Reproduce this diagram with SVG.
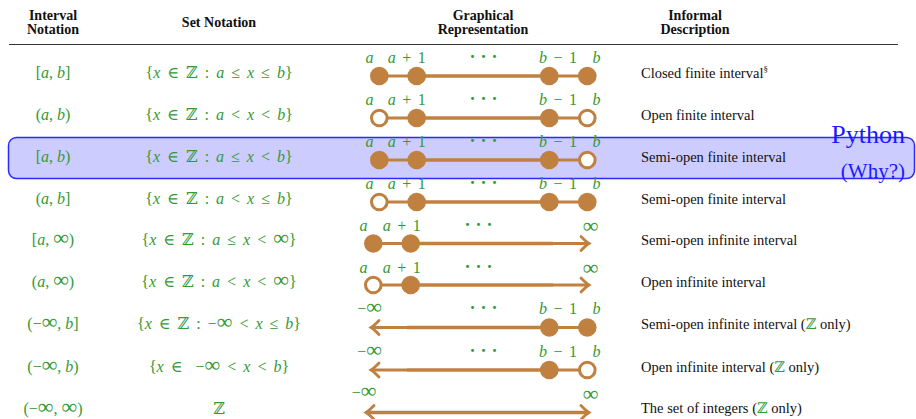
<svg xmlns="http://www.w3.org/2000/svg" width="916" height="419" viewBox="0 0 916 419">
  <style>
    text { font-family: "Liberation Serif", "DejaVu Serif", serif; }
    .hd { font-size: 14px; font-weight: bold; fill: #111; text-anchor: middle; }
    .m { font-size: 16px; fill: #339933; text-anchor: middle; }
    .set { font-size: 16px; fill: #339933; text-anchor: middle; word-spacing: 3px; }
    .lbl { font-size: 16px; fill: #339933; text-anchor: middle; word-spacing: 2.5px; }
    .v { font-style: italic; }
    .inf { font-family: "Liberation Serif", serif; font-size: 22px; }
    .dd { font-size: 18px; font-weight: bold; fill: #339933; text-anchor: middle; letter-spacing: 5px; }
    .desc { font-size: 14.5px; fill: #111; }
    .z { fill: #339933; }
    .ln { stroke: #c08040; stroke-width: 2.8; fill: none; }
    .ln2 { stroke: #c08040; stroke-width: 3.6; fill: none; }
    .dot { fill: #c08040; }
    .open { fill: #fff; stroke: #c08040; stroke-width: 3; }
    .py { fill: #1a1aff; text-anchor: end; }
  </style>
  <defs>
    <marker id="arr" markerUnits="userSpaceOnUse" viewBox="-10 -10 12 20" markerWidth="12" markerHeight="20" refX="0" refY="0" orient="auto-start-reverse" overflow="visible">
      <path d="M-8,-7 Q-3,-1.8 0,0 Q-3,1.8 -8,7" fill="none" stroke="#c08040" stroke-width="2.8" stroke-linecap="round"/>
    </marker>
  </defs>

  <rect width="916" height="419" fill="#fff"/>

  <!-- column headings -->
  <g id="header">
    <text class="hd" x="53" y="19.5">Interval</text>
    <text class="hd" x="53" y="33.5">Notation</text>
    <text class="hd" x="219" y="27">Set Notation</text>
    <text class="hd" x="483" y="19.5">Graphical</text>
    <text class="hd" x="483" y="33.5">Representation</text>
    <text class="hd" x="695" y="19.5">Informal</text>
    <text class="hd" x="695" y="33.5">Description</text>
    <line x1="9" y1="44.5" x2="898" y2="44.5" stroke="#333" stroke-width="1.2"/>
  </g>

  <!-- highlighted row background -->
  <rect id="highlight" x="8.5" y="137.5" width="906" height="41" rx="8" fill="#ccccff" stroke="#2a2aff" stroke-width="1.5"/>

  <!-- row 1: closed finite -->
  <g id="row1">
    <text class="m" x="53" y="77.5">[<tspan class="v">a</tspan>, <tspan class="v">b</tspan>]</text>
    <text class="set" x="219" y="77.5">{<tspan class="v">x</tspan> ∈ ℤ : <tspan class="v">a</tspan> ≤ <tspan class="v">x</tspan> ≤ <tspan class="v">b</tspan>}</text>
    <text class="lbl v" x="369.5" y="63">a</text>
    <text class="lbl" x="406.7" y="63"><tspan class="v">a</tspan> + 1</text>
    <text class="dd" x="486" y="63">···</text>
    <text class="lbl" x="558" y="63"><tspan class="v">b</tspan> − 1</text>
    <text class="lbl v" x="596.5" y="63">b</text>
    <line class="ln" x1="379.3" y1="76" x2="416.7" y2="76"/>
    <line class="ln2" x1="416.7" y1="76" x2="549.3" y2="76"/>
    <line class="ln" x1="549.3" y1="76" x2="587.3" y2="76"/>
    <circle class="dot" cx="379.3" cy="76" r="9.3"/>
    <circle class="dot" cx="416.7" cy="76" r="9.3"/>
    <circle class="dot" cx="549.3" cy="76" r="9.3"/>
    <circle class="dot" cx="587.3" cy="76" r="9.3"/>
    <text class="desc" x="641" y="77.5">Closed finite interval<tspan font-size="9" dy="-6">§</tspan></text>
  </g>

  <!-- row 2: open finite -->
  <g id="row2">
    <text class="m" x="53" y="119.5">(<tspan class="v">a</tspan>, <tspan class="v">b</tspan>)</text>
    <text class="set" x="219" y="119.5">{<tspan class="v">x</tspan> ∈ ℤ : <tspan class="v">a</tspan> &lt; <tspan class="v">x</tspan> &lt; <tspan class="v">b</tspan>}</text>
    <text class="lbl v" x="369.5" y="105">a</text>
    <text class="lbl" x="406.7" y="105"><tspan class="v">a</tspan> + 1</text>
    <text class="dd" x="486" y="105">···</text>
    <text class="lbl" x="558" y="105"><tspan class="v">b</tspan> − 1</text>
    <text class="lbl v" x="596.5" y="105">b</text>
    <line class="ln" x1="379.3" y1="118" x2="416.7" y2="118"/>
    <line class="ln2" x1="416.7" y1="118" x2="549.3" y2="118"/>
    <line class="ln" x1="549.3" y1="118" x2="587.3" y2="118"/>
    <circle class="open" cx="379.3" cy="118" r="7.8"/>
    <circle class="dot" cx="416.7" cy="118" r="9.3"/>
    <circle class="dot" cx="549.3" cy="118" r="9.3"/>
    <circle class="open" cx="587.3" cy="118" r="7.8"/>
    <text class="desc" x="641" y="119.5">Open finite interval</text>
  </g>

  <!-- row 3: half-open [a, b) -->
  <g id="row3">
    <text class="m" x="53" y="161.5">[<tspan class="v">a</tspan>, <tspan class="v">b</tspan>)</text>
    <text class="set" x="219" y="161.5">{<tspan class="v">x</tspan> ∈ ℤ : <tspan class="v">a</tspan> ≤ <tspan class="v">x</tspan> &lt; <tspan class="v">b</tspan>}</text>
    <text class="lbl v" x="369.5" y="147">a</text>
    <text class="lbl" x="406.7" y="147"><tspan class="v">a</tspan> + 1</text>
    <text class="dd" x="486" y="147">···</text>
    <text class="lbl" x="558" y="147"><tspan class="v">b</tspan> − 1</text>
    <text class="lbl v" x="596.5" y="147">b</text>
    <line class="ln" x1="379.3" y1="160" x2="416.7" y2="160"/>
    <line class="ln2" x1="416.7" y1="160" x2="549.3" y2="160"/>
    <line class="ln" x1="549.3" y1="160" x2="587.3" y2="160"/>
    <circle class="dot" cx="379.3" cy="160" r="9.3"/>
    <circle class="dot" cx="416.7" cy="160" r="9.3"/>
    <circle class="dot" cx="549.3" cy="160" r="9.3"/>
    <circle class="open" cx="587.3" cy="160" r="7.8"/>
    <text class="desc" x="641" y="161.5">Semi-open finite interval</text>
  </g>

  <!-- row 4: half-open (a, b] -->
  <g id="row4">
    <text class="m" x="53" y="203.5">(<tspan class="v">a</tspan>, <tspan class="v">b</tspan>]</text>
    <text class="set" x="219" y="203.5">{<tspan class="v">x</tspan> ∈ ℤ : <tspan class="v">a</tspan> &lt; <tspan class="v">x</tspan> ≤ <tspan class="v">b</tspan>}</text>
    <text class="lbl v" x="369.5" y="189">a</text>
    <text class="lbl" x="406.7" y="189"><tspan class="v">a</tspan> + 1</text>
    <text class="dd" x="486" y="189">···</text>
    <text class="lbl" x="558" y="189"><tspan class="v">b</tspan> − 1</text>
    <text class="lbl v" x="596.5" y="189">b</text>
    <line class="ln" x1="379.3" y1="202" x2="416.7" y2="202"/>
    <line class="ln2" x1="416.7" y1="202" x2="549.3" y2="202"/>
    <line class="ln" x1="549.3" y1="202" x2="587.3" y2="202"/>
    <circle class="open" cx="379.3" cy="202" r="7.8"/>
    <circle class="dot" cx="416.7" cy="202" r="9.3"/>
    <circle class="dot" cx="549.3" cy="202" r="9.3"/>
    <circle class="dot" cx="587.3" cy="202" r="9.3"/>
    <text class="desc" x="641" y="203.5">Semi-open finite interval</text>
  </g>

  <!-- row 5: [a, ∞) -->
  <g id="row5">
    <text class="m" x="53" y="245">[<tspan class="v">a</tspan>, <tspan class="inf">∞</tspan>)</text>
    <text class="set" x="219" y="245">{<tspan class="v">x</tspan> ∈ ℤ : <tspan class="v">a</tspan> ≤ <tspan class="v">x</tspan> &lt; <tspan class="inf">∞</tspan>}</text>
    <text class="lbl v" x="363.5" y="231">a</text>
    <text class="lbl" x="401.7" y="231"><tspan class="v">a</tspan> + 1</text>
    <text class="dd" x="481" y="231">···</text>
    <text class="lbl inf" x="590.5" y="233">∞</text>
    <line class="ln" x1="373.3" y1="243.5" x2="410.7" y2="243.5"/>
    <line class="ln2" x1="410.7" y1="243.5" x2="553" y2="243.5"/>
    <line class="ln" x1="553" y1="243.5" x2="589" y2="243.5" marker-end="url(#arr)"/>
    <circle class="dot" cx="373.3" cy="243.5" r="9.3"/>
    <circle class="dot" cx="410.7" cy="243.5" r="9.3"/>
    <text class="desc" x="641" y="245">Semi-open infinite interval</text>
  </g>

  <!-- row 6: (a, ∞) -->
  <g id="row6">
    <text class="m" x="53" y="286.5">(<tspan class="v">a</tspan>, <tspan class="inf">∞</tspan>)</text>
    <text class="set" x="219" y="286.5">{<tspan class="v">x</tspan> ∈ ℤ : <tspan class="v">a</tspan> &lt; <tspan class="v">x</tspan> &lt; <tspan class="inf">∞</tspan>}</text>
    <text class="lbl v" x="363.5" y="272.5">a</text>
    <text class="lbl" x="401.7" y="272.5"><tspan class="v">a</tspan> + 1</text>
    <text class="dd" x="481" y="272.5">···</text>
    <text class="lbl inf" x="590.5" y="274.5">∞</text>
    <line class="ln" x1="373.3" y1="285" x2="410.7" y2="285"/>
    <line class="ln2" x1="410.7" y1="285" x2="553" y2="285"/>
    <line class="ln" x1="553" y1="285" x2="589" y2="285" marker-end="url(#arr)"/>
    <circle class="open" cx="373.3" cy="285" r="7.8"/>
    <circle class="dot" cx="410.7" cy="285" r="9.3"/>
    <text class="desc" x="641" y="286.5">Open infinite interval</text>
  </g>

  <!-- row 7: (−∞, b] -->
  <g id="row7">
    <text class="m" x="53" y="329">(−<tspan class="inf">∞</tspan>, <tspan class="v">b</tspan>]</text>
    <text class="set" x="219" y="329">{<tspan class="v">x</tspan> ∈ ℤ : −<tspan class="inf">∞</tspan> &lt; <tspan class="v">x</tspan> ≤ <tspan class="v">b</tspan>}</text>
    <text class="lbl" x="369.5" y="314">−<tspan class="inf">∞</tspan></text>
    <text class="dd" x="486" y="314">···</text>
    <text class="lbl" x="558" y="314"><tspan class="v">b</tspan> − 1</text>
    <text class="lbl v" x="596.5" y="314">b</text>
    <line class="ln" x1="407" y1="327.5" x2="371" y2="327.5" marker-end="url(#arr)"/>
    <line class="ln2" x1="407" y1="327.5" x2="549.3" y2="327.5"/>
    <line class="ln" x1="549.3" y1="327.5" x2="587.3" y2="327.5"/>
    <circle class="dot" cx="549.3" cy="327.5" r="9.3"/>
    <circle class="dot" cx="587.3" cy="327.5" r="9.3"/>
    <text class="desc" x="641" y="329">Semi-open infinite interval (<tspan class="z">ℤ</tspan> only)</text>
  </g>

  <!-- row 8: (−∞, b) -->
  <g id="row8">
    <text class="m" x="53" y="371.5">(−<tspan class="inf">∞</tspan>, <tspan class="v">b</tspan>)</text>
    <text class="set" x="219" y="371.5">{<tspan class="v">x</tspan> ∈ <tspan dx="6">−</tspan><tspan class="inf">∞</tspan> &lt; <tspan class="v">x</tspan> &lt; <tspan class="v">b</tspan>}</text>
    <text class="lbl" x="369.5" y="357">−<tspan class="inf">∞</tspan></text>
    <text class="dd" x="486" y="357">···</text>
    <text class="lbl" x="558" y="357"><tspan class="v">b</tspan> − 1</text>
    <text class="lbl v" x="596.5" y="357">b</text>
    <line class="ln" x1="407" y1="370" x2="371" y2="370" marker-end="url(#arr)"/>
    <line class="ln2" x1="407" y1="370" x2="549.3" y2="370"/>
    <line class="ln" x1="549.3" y1="370" x2="587.3" y2="370"/>
    <circle class="dot" cx="549.3" cy="370" r="9.3"/>
    <circle class="open" cx="587.3" cy="370" r="7.8"/>
    <text class="desc" x="641" y="371.5">Open infinite interval (<tspan class="z">ℤ</tspan> only)</text>
  </g>

  <!-- row 9: all integers -->
  <g id="row9">
    <text class="m" x="53" y="413.5">(−<tspan class="inf">∞</tspan>, <tspan class="inf">∞</tspan>)</text>
    <text class="set" x="219" y="413.5">ℤ</text>
    <text class="lbl" x="364" y="398">−<tspan class="inf">∞</tspan></text>
    <text class="lbl inf" x="590.5" y="401">∞</text>
    <line class="ln2" x1="366" y1="412.5" x2="589" y2="412.5" marker-start="url(#arr)" marker-end="url(#arr)"/>
    <text class="desc" x="641" y="413">The set of integers (<tspan class="z">ℤ</tspan> only)</text>
  </g>

  <!-- side note on the highlighted row -->
  <g id="note">
    <text class="py" x="905" y="143" font-size="26">Python</text>
    <text class="py" x="905" y="178" font-size="21">(Why?)</text>
  </g>
</svg>
